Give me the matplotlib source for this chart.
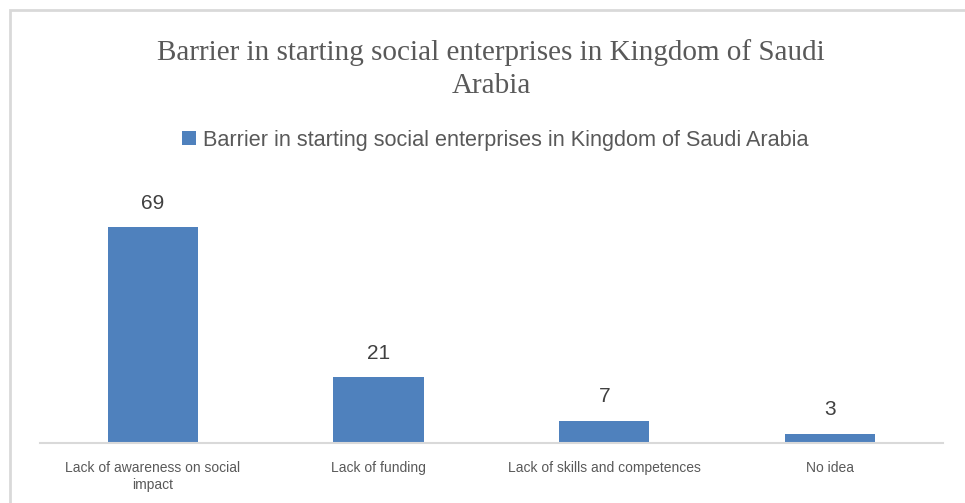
import matplotlib.pyplot as plt
from matplotlib.patches import Rectangle

# Survey responses: main barrier to starting a social enterprise
categories = ['Lack of awareness on social\nimpact', 'Lack of funding',
              'Lack of skills and competences', 'No idea']
counts = [69, 21, 7, 3]
series_name = 'Barrier in starting social enterprises in Kingdom of Saudi Arabia'
title = 'Barrier in starting social enterprises in Kingdom of Saudi\nArabia'

bar_color = '#4f81bd'
text_color = '#595959'
line_color = '#d9d9d9'

fig = plt.figure(figsize=(9.65, 5.03), dpi=100)
ax = fig.add_axes([0.0415, 0.1193, 0.9355, 0.497])

x = range(len(categories))
bars = ax.bar(x, counts, width=0.4, color=bar_color, label=series_name, zorder=2)

for rect, v in zip(bars, counts):
    ax.text(rect.get_x() + rect.get_width() / 2, v + 4.7, str(v),
            ha='center', va='bottom', fontsize=15, color='#404040',
            family='Liberation Sans')

ax.set_xlim(-0.5, len(categories) - 0.5)
ax.set_ylim(0, 80)
ax.set_yticks([])
ax.set_xticks(list(x))
ax.set_xticklabels(categories, fontsize=10, color=text_color,
                   family='Liberation Sans', linespacing=1.3)
ax.tick_params(axis='x', length=0, pad=13)
for side in ['top', 'left', 'right']:
    ax.spines[side].set_visible(False)
ax.spines['bottom'].set_color(line_color)
ax.spines['bottom'].set_linewidth(1.5)

# chart title and legend
fig.text(0.509, 0.863, title, ha='center', va='center', fontsize=21,
         color=text_color, family='Liberation Serif', linespacing=1.32)
fig.legend(handles=[bars], labels=[series_name], loc='center',
           bbox_to_anchor=(0.513, 0.721), frameon=False,
           prop={'family': 'Liberation Sans', 'size': 15.6},
           handlelength=0.65, handleheight=0.65, handletextpad=0.3,
           labelcolor=text_color)

# outer chart border
fig.patches.append(Rectangle((10 / 965, -0.02), 1.05, 1 - 10 / 503 + 0.02,
                             transform=fig.transFigure, fill=False,
                             edgecolor=line_color, linewidth=2))

fig.savefig('out.png', dpi=100)
